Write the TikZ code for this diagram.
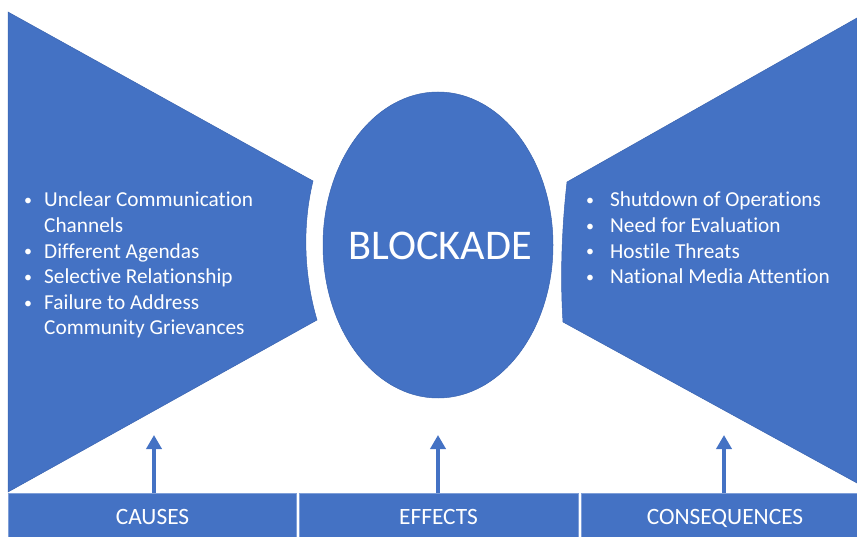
\documentclass[tikz,border=0pt]{standalone}
\usepackage{fontspec}
\usepackage{graphicx}
\setmainfont{Carlito}[Ligatures=NoCommon]
\usetikzlibrary{arrows.meta,shapes.geometric}
\definecolor{obl}{HTML}{4472C4}
\definecolor{obd}{HTML}{3A64B0}
\definecolor{obb}{HTML}{7F9FD8}
\tikzset{
  wing/.style={fill=obl, draw=obd, line width=0.5pt},
  barbox/.style={fill=obl, draw=obb, line width=0.6pt, minimum height=46pt, inner sep=0pt, anchor=north west},
  barlabel/.style={text=white, font=\fontsize{23.4}{26}\selectfont, anchor=base},
  listtext/.style={text=white, font=\fontsize{21.3}{25.6}\selectfont, align=left, anchor=base west, inner sep=0pt},
  uparrow/.style={draw=obl, line width=4.5pt, -{Triangle[width=15pt,length=14pt]}, shorten >=0pt}
}
\newcommand{\smbul}{\raisebox{1.2pt}{\scalebox{0.75}{\textbullet}}}
\newcommand{\bul}{\makebox[20pt][l]{\smbul}}
\newcommand{\bulr}{\makebox[24pt][l]{\smbul}}
\begin{document}
\begin{tikzpicture}[x=1pt,y=1pt]
\useasboundingbox (0,0) rectangle (857,536);
% left wing
\path[wing] (8,524) -- (313,355) .. controls (302,310) and (304,260) .. (317,216) -- (8,44) -- cycle;
% right wing
\path[wing] (857,518) -- (567,354) .. controls (562,310) and (560,260) .. (563,214) -- (857,53) -- cycle;
% central ellipse
\node[ellipse, fill=obl, draw=obd, line width=0.5pt, minimum width=230pt, minimum height=306pt, inner sep=0pt] (blockade) at (438,291) {};
\node[text=white, font=\fontsize{42.3}{46}\selectfont, anchor=base] (blocktext) at (440,276) {BLOCKADE};
% bars
\node[barbox, minimum width=288pt] (causes) at (8,43) {};
\node[barbox, minimum width=279pt] (effects) at (299,43) {};
\node[barbox, minimum width=280pt] (consequences) at (581,43) {};
\node[barlabel] (causeslbl) at (152.5,12) {CAUSES};
\node[barlabel] (effectslbl) at (438.5,12) {EFFECTS};
\node[barlabel] (conslbl) at (725,12) {CONSEQUENCES};
% arrows
\coordinate (t1) at (154,101);
\coordinate (t2) at (438,101);
\coordinate (t3) at (724,101);
\draw[uparrow] (causes.north -| t1) -- (t1);
\draw[uparrow] (effects.north -| t2) -- (t2);
\draw[uparrow] (consequences.north -| t3) -- (t3);
% lists
\node[listtext] (causelist) at (24,201) {\bul Unclear Communication\\\hspace*{20pt}Channels\\\bul Different Agendas\\\bul Selective Relationship\\\bul Failure to Address\\\hspace*{20pt}Community Grievances};
\node[listtext] (conslist) at (586,252.2) {\bulr Shutdown of Operations\\\bulr Need for Evaluation\\\bulr Hostile Threats\\\bulr National Media Attention};
\end{tikzpicture}
\end{document}
